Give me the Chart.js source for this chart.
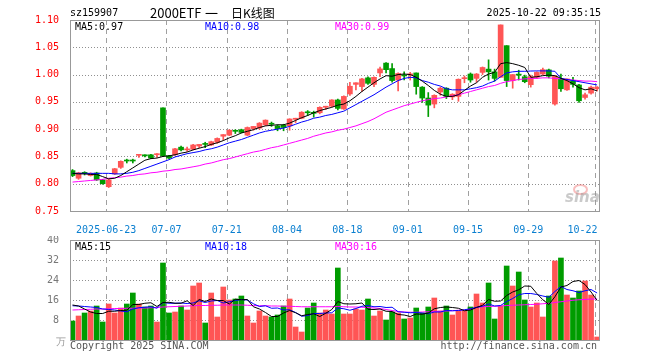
<!DOCTYPE html>
<html><head><meta charset="utf-8">
<script src="https://cdn.jsdelivr.net/npm/chart.js@4.4.1/dist/chart.umd.min.js"></script>
<style>
html,body{margin:0;padding:0;background:#fff;width:660px;height:360px;overflow:hidden}
#wrap{position:relative;width:660px;height:360px}
canvas{position:absolute;left:0}
#c1{top:0}
#c2{top:236px}
.t{position:absolute;font-family:"DejaVu Sans Mono",monospace;font-size:10px;line-height:12px;white-space:pre}
.h{position:absolute;font-family:'Noto Sans CJK SC';font-size:13px;line-height:15px;top:5px;color:#000;white-space:pre}
</style></head><body>
<div id="wrap">
<canvas id="c1" width="660" height="236"></canvas>
<canvas id="c2" width="660" height="124"></canvas>
<div class="t" style="left:70px;top:7px;color:#000">sz159907</div>
<div class="h" style="left:150px">2000ETF</div>
<div class="h" style="left:205px">一</div>
<div class="h" style="left:231px;font-size:12px">日K线图</div>
<div class="t" style="right:59px;top:7px;color:#000">2025-10-22 09:35:15</div>
<div class="t" style="left:75px;top:21px;color:#000">MA5:0.97</div>
<div class="t" style="left:205px;top:21px;color:#0000ff">MA10:0.98</div>
<div class="t" style="left:335px;top:21px;color:#ff00ff">MA30:0.99</div>
<div class="t" style="left:75px;top:241px;color:#000">MA5:15</div>
<div class="t" style="left:205px;top:241px;color:#0000ff">MA10:18</div>
<div class="t" style="left:335px;top:241px;color:#ff00ff">MA30:16</div>
<div class="t" style="left:56px;top:336px;color:#999">万</div>
<div class="t" style="left:70px;top:340px;color:#555">Copyright 2025 SINA.COM</div>
<div class="t" style="right:63px;top:340px;color:#555">http://finance.sina.com.cn</div>
<div style="position:absolute;left:573px;top:184px;width:11px;height:7px;border:2px solid rgba(240,110,110,0.45);border-radius:50%"></div>
<div class="t" style="left:565px;top:190px;font-family:'DejaVu Sans';font-size:15px;line-height:15px;font-weight:bold;font-style:italic;color:rgba(150,150,150,0.5)">sina</div>
</div>
<script>
const dateIdx = [6,16,26,36,46,56,66,76,87];
const dateLabels = ['2025-06-23','07-07','07-21','08-04','08-18','09-01','09-15','09-29','10-22    '];
const priceTicks = [0.75,0.80,0.85,0.90,0.95,1.00,1.05,1.10];
const volTicks = [8,16,24,32,40];

const opens = [0.824,0.810,0.8192,0.815,0.8196,0.807,0.7945,0.818,0.830,0.8418,
0.8418,0.852,0.853,0.853,0.853,0.939,0.851,0.853,0.867,0.862,
0.863,0.869,0.8722,0.871,0.876,0.887,0.889,0.8962,0.899,0.889,
0.901,0.902,0.908,0.9092,0.906,0.907,0.906,0.918,0.920,0.931,
0.930,0.930,0.940,0.942,0.9535,0.937,0.9645,0.982,0.978,0.994,
0.982,1.003,1.021,1.011,0.990,0.998,0.9995,1.003,0.977,0.957,
0.946,0.968,0.975,0.959,0.960,0.9925,1.001,0.993,1.004,1.010,
1.005,0.995,1.053,0.989,1.000,0.996,0.9815,0.995,1.001,1.0086,
0.946,0.992,0.972,0.989,0.981,0.958,0.966,0.974];
const closes = [0.815,0.820,0.819,0.819,0.807,0.800,0.807,0.8275,0.841,0.8416,
0.8416,0.853,0.851,0.847,0.855,0.851,0.847,0.864,0.862,0.863,
0.871,0.872,0.872,0.877,0.883,0.890,0.898,0.896,0.894,0.903,
0.905,0.911,0.9165,0.909,0.901,0.903,0.9186,0.920,0.931,0.930,
0.929,0.940,0.942,0.9535,0.938,0.960,0.9786,0.985,0.992,0.984,
0.995,1.0104,1.009,0.989,1.002,0.9975,1.000,0.978,0.957,0.944,
0.962,0.975,0.960,0.964,0.9914,0.993,0.990,1.001,1.013,1.005,
0.993,1.091,0.989,1.000,0.999,0.987,0.996,1.004,1.009,0.997,
0.997,0.974,0.992,0.982,0.952,0.963,0.977,0.977];
const highs = [0.826,0.821,0.822,0.820,0.821,0.808,0.808,0.828,0.842,0.845,
0.845,0.853,0.853,0.854,0.855,0.939,0.852,0.865,0.869,0.867,
0.872,0.872,0.876,0.878,0.884,0.890,0.899,0.899,0.900,0.904,
0.905,0.912,0.917,0.913,0.908,0.909,0.919,0.920,0.932,0.934,
0.933,0.941,0.942,0.954,0.955,0.961,0.986,0.985,0.993,0.996,
0.996,1.0135,1.022,1.020,1.003,1.005,1.004,1.003,0.978,0.967,
0.963,0.977,0.976,0.965,0.992,0.9975,1.003,1.002,1.014,1.027,
1.010,1.091,1.053,1.000,1.008,0.999,0.999,1.005,1.012,1.010,
0.998,1.001,0.992,0.995,0.982,0.966,0.979,0.978];
const lows = [0.813,0.808,0.816,0.814,0.806,0.799,0.793,0.817,0.828,0.838,
0.838,0.848,0.849,0.846,0.848,0.850,0.846,0.852,0.860,0.859,
0.862,0.866,0.866,0.870,0.874,0.880,0.888,0.892,0.893,0.888,
0.898,0.900,0.906,0.905,0.897,0.897,0.898,0.912,0.919,0.925,
0.922,0.928,0.936,0.941,0.935,0.936,0.962,0.972,0.969,0.982,
0.978,0.996,1.003,0.986,0.970,0.990,0.990,0.964,0.949,0.923,
0.939,0.962,0.956,0.954,0.951,0.985,0.986,0.986,1.000,0.990,
0.988,0.995,0.978,0.975,0.990,0.985,0.977,0.993,1.000,0.994,
0.944,0.969,0.971,0.977,0.949,0.955,0.964,0.970];
const ma5 = [0.819,0.818,0.818,0.817,0.817,0.813,0.809,0.810,0.815,0.822,
0.829,0.836,0.843,0.846,0.847,0.850,0.851,0.853,0.856,0.858,
0.862,0.865,0.868,0.872,0.875,0.879,0.884,0.888,0.893,0.896,
0.899,0.903,0.906,0.907,0.908,0.908,0.911,0.916,0.921,0.925,
0.930,0.934,0.937,0.940,0.944,0.946,0.952,0.960,0.969,0.977,
0.985,0.992,0.998,0.997,1.000,1.001,1.000,0.995,0.988,0.980,
0.971,0.964,0.960,0.960,0.963,0.971,0.979,0.985,0.995,1.001,
1.004,1.020,1.022,1.020,1.017,1.013,0.995,0.996,0.998,0.999,
0.998,0.993,0.989,0.983,0.976,0.972,0.974,0.970];
const ma10 = [0.819,0.819,0.819,0.819,0.819,0.819,0.819,0.818,0.818,0.819,
0.821,0.824,0.828,0.832,0.836,0.840,0.844,0.849,0.852,0.855,
0.857,0.859,0.862,0.864,0.867,0.871,0.875,0.878,0.881,0.885,
0.889,0.893,0.896,0.898,0.900,0.902,0.905,0.909,0.913,0.916,
0.920,0.922,0.925,0.927,0.930,0.933,0.939,0.945,0.951,0.957,
0.963,0.970,0.977,0.983,0.989,0.993,0.995,0.994,0.989,0.986,
0.982,0.979,0.974,0.972,0.972,0.972,0.974,0.976,0.979,0.984,
0.988,0.996,1.003,1.005,1.006,1.006,1.0065,1.0067,1.0067,1.0067,
1.006,0.993,0.991,0.989,0.987,0.985,0.983,0.981];
const ma30 = [0.803,0.804,0.805,0.806,0.807,0.808,0.810,0.811,0.812,0.814,
0.815,0.817,0.818,0.820,0.821,0.823,0.824,0.826,0.827,0.829,
0.831,0.833,0.836,0.838,0.841,0.844,0.846,0.849,0.852,0.855,
0.858,0.860,0.863,0.866,0.868,0.871,0.874,0.877,0.880,0.883,
0.887,0.890,0.893,0.895,0.898,0.900,0.903,0.906,0.910,0.914,
0.919,0.925,0.931,0.935,0.939,0.943,0.946,0.949,0.952,0.954,
0.956,0.957,0.959,0.961,0.963,0.966,0.969,0.972,0.975,0.978,
0.980,0.984,0.987,0.989,0.991,0.992,0.993,0.993,0.994,0.994,
0.993,0.992,0.991,0.990,0.989,0.988,0.988,0.987];
const vols = [7.6,9.6,10.8,11.6,13.6,7.2,14.4,10.8,12.8,14.4,
18.8,14.4,13.2,13.6,7.2,30.8,10.8,11.2,13.6,12.0,
21.6,22.8,6.8,18.8,9.2,21.2,16.0,16.4,17.6,9.6,
6.8,11.6,9.6,9.2,10.0,13.6,16.4,5.2,3.2,12.8,
14.8,10.8,12.0,10.4,28.8,10.4,10.4,12.4,12.0,16.4,
9.6,11.6,8.0,11.2,10.8,8.4,8.8,12.8,10.8,13.2,
16.8,11.6,13.6,10.0,11.6,11.6,13.2,18.4,14.8,22.8,
8.4,13.6,29.6,21.6,27.2,16.0,13.2,14.8,9.2,17.6,
31.6,32.8,18.0,16.8,19.6,23.6,18.0,1.2];
const vma5 = [14.0,13.6,12.4,11.2,10.6,10.6,11.5,11.5,11.8,11.9,
14.2,14.2,14.7,14.9,13.4,15.0,15.1,14.7,14.7,15.7,
13.8,16.2,15.4,16.4,15.8,15.8,14.4,16.3,16.1,16.2,
13.3,12.4,11.0,9.4,9.4,10.8,11.8,10.9,9.7,10.2,
10.5,9.4,10.7,12.2,15.4,14.5,14.4,14.5,14.8,12.3,
12.2,12.4,11.5,11.4,10.2,10.0,9.4,10.4,10.3,10.8,
12.5,13.0,13.2,13.0,12.7,11.7,12.0,13.0,13.9,16.2,
15.5,15.6,17.8,19.2,20.1,21.6,21.5,18.6,16.1,14.2,
17.3,21.2,21.8,23.4,23.8,22.2,19.2,15.8];
const vma10 = [13.7,13.6,13.4,13.2,13.0,12.4,12.2,12.0,11.6,11.3,
12.4,12.9,13.1,13.3,12.7,15.0,14.7,14.7,14.8,14.6,
14.8,15.7,15.0,15.6,15.8,14.8,15.3,15.8,16.2,16.0,
14.5,13.4,13.7,12.7,12.8,12.0,12.1,11.0,9.5,9.8,
10.6,10.6,10.8,10.9,12.8,12.5,11.9,12.6,13.5,13.8,
13.3,13.4,13.0,13.1,11.3,11.1,10.9,11.0,10.8,10.5,
11.2,11.2,11.8,11.7,11.8,12.1,12.5,13.1,13.5,14.4,
13.6,13.8,15.4,16.6,18.1,18.6,18.6,18.2,17.6,17.1,
19.4,21.4,20.2,19.7,19.0,19.7,20.2,18.8];
const vma30 = [12.0,12.1,12.2,12.3,12.4,12.4,12.5,12.6,12.6,12.7,
12.7,12.8,12.8,12.9,13.0,13.2,13.3,13.4,13.5,13.6,
13.7,13.8,13.8,13.9,13.9,14.0,14.0,14.0,14.0,13.9,
13.8,13.7,13.7,13.6,13.6,13.5,13.5,13.4,13.3,13.3,
13.3,13.3,13.3,13.3,13.4,13.3,13.2,13.2,13.1,13.0,
12.8,12.6,12.2,11.8,11.4,11.2,11.1,11.1,11.2,11.3,
11.4,11.5,11.6,11.7,11.9,12.0,12.3,13.0,13.3,13.4,
13.5,13.6,13.8,13.9,14.0,14.1,14.2,14.3,14.5,14.7,
15.0,15.3,15.6,15.9,16.1,16.2,16.4,16.4];

const RED = '#ff5555', GREEN = '#009c00';
const OFF = 0.42, XMAX = 87.9;
const MONO = 'DejaVu Sans Mono';
const colorAt = ctx => (closes[ctx.dataIndex] >= opens[ctx.dataIndex] ? RED : GREEN);
const xy = arr => arr.map((y, i) => ({x: i + OFF, y}));
const line = (arr, c) => ({type: 'line', data: xy(arr), borderColor: c, borderWidth: 1, pointRadius: 0, tension: 0, order: 0});

function makeFrame(yTicks) {
  return {
    id: 'frame',
    beforeDatasetsDraw(chart) {
      const ctx = chart.ctx, a = chart.chartArea;
      const sx = chart.scales.x, sy = chart.scales.y;
      const L = Math.round(a.left), R = Math.round(a.right), T = Math.round(a.top), B = Math.round(a.bottom);
      ctx.save();
      ctx.fillStyle = '#909090';
      yTicks.forEach(v => {
        const py = Math.round(sy.getPixelForValue(v));
        for (let px = L; px < R; px += 3) ctx.fillRect(px, py, 1, 1);
      });
      ctx.fillStyle = '#a0a0a0';
      dateIdx.forEach(v => {
        const px = Math.round(sx.getPixelForValue(v));
        for (let py = T; py < B; py += 9) ctx.fillRect(px, py, 1, Math.min(5, B - py));
      });
      ctx.restore();
    },
    afterDraw(chart) {
      const ctx = chart.ctx, a = chart.chartArea;
      ctx.save();
      ctx.fillStyle = '#999999';
      const L = Math.round(a.left), R = Math.round(a.right), T = Math.round(a.top), B = Math.round(a.bottom);
      ctx.fillRect(L, T, R - L, 1);
      ctx.fillRect(L, B, R - L, 1);
      ctx.fillRect(L, T, 1, B - T + 1);
      ctx.fillRect(R - 1, T, 1, B - T + 1);
      ctx.restore();
    }
  };
}

function xScale(showLabels, h) {
  return {
    type: 'linear', min: 0, max: XMAX, offset: false,
    afterBuildTicks: s => { s.ticks = dateIdx.map(v => ({value: v})); },
    afterFit: s => { s.height = h; s.paddingLeft = 0; s.paddingRight = 0; },
    grid: {display: false, offset: false},
    border: {display: false},
    ticks: {
      display: showLabels, autoSkip: false, maxRotation: 0, minRotation: 0, padding: 5,
      color: '#0a7fd0', font: {family: MONO, size: 10},
      callback: (v, i) => dateLabels[i]
    }
  };
}

function yScale(min, max, ticks, color, fmt) {
  return {
    type: 'linear', min, max,
    afterBuildTicks: s => { s.ticks = ticks.map(v => ({value: v})); },
    afterFit: s => { s.width = 70; s.paddingTop = 0; s.paddingBottom = 0; },
    grid: {display: false},
    border: {display: false},
    ticks: {padding: 3, color, font: {family: MONO, size: 10}, callback: fmt}
  };
}

const common = {
  responsive: false, maintainAspectRatio: false, animation: false, events: [], devicePixelRatio: 1
};

new Chart(document.getElementById('c1'), {
  type: 'bar',
  data: {datasets: [
    line(ma5, '#000000'), line(ma10, '#0000ff'), line(ma30, '#ff00ff'),
    {type: 'bar', data: opens.map((o, i) => ({x: i + OFF, y: [o, closes[i]]})), backgroundColor: colorAt,
     barThickness: 5, minBarLength: 1, grouped: false, borderWidth: 0, order: 1},
    {type: 'bar', data: lows.map((l, i) => ({x: i + OFF, y: [l, highs[i]]})), backgroundColor: colorAt,
     barThickness: 1, minBarLength: 1, grouped: false, borderWidth: 0, order: 2}
  ]},
  options: Object.assign({}, common, {
    layout: {padding: {left: 0, right: 60, top: 20, bottom: 0}},
    plugins: {legend: {display: false}, tooltip: {enabled: false}},
    scales: {
      x: xScale(true, 25),
      y: yScale(0.75, 1.10, priceTicks, '#ff0000', v => v.toFixed(2))
    }
  }),
  plugins: [makeFrame(priceTicks)]
});

new Chart(document.getElementById('c2'), {
  type: 'bar',
  data: {datasets: [
    line(vma5, '#000000'), line(vma10, '#0000ff'), line(vma30, '#ff00ff'),
    {type: 'bar', data: xy(vols), backgroundColor: colorAt, barThickness: 5, grouped: false, borderWidth: 0, order: 1}
  ]},
  options: Object.assign({}, common, {
    layout: {padding: {left: 0, right: 60, top: 4, bottom: 0}},
    plugins: {legend: {display: false}, tooltip: {enabled: false}},
    scales: {
      x: xScale(false, 20),
      y: yScale(0, 40, volTicks, '#777', v => String(v))
    }
  }),
  plugins: [makeFrame(volTicks)]
});
</script>
</body></html>
